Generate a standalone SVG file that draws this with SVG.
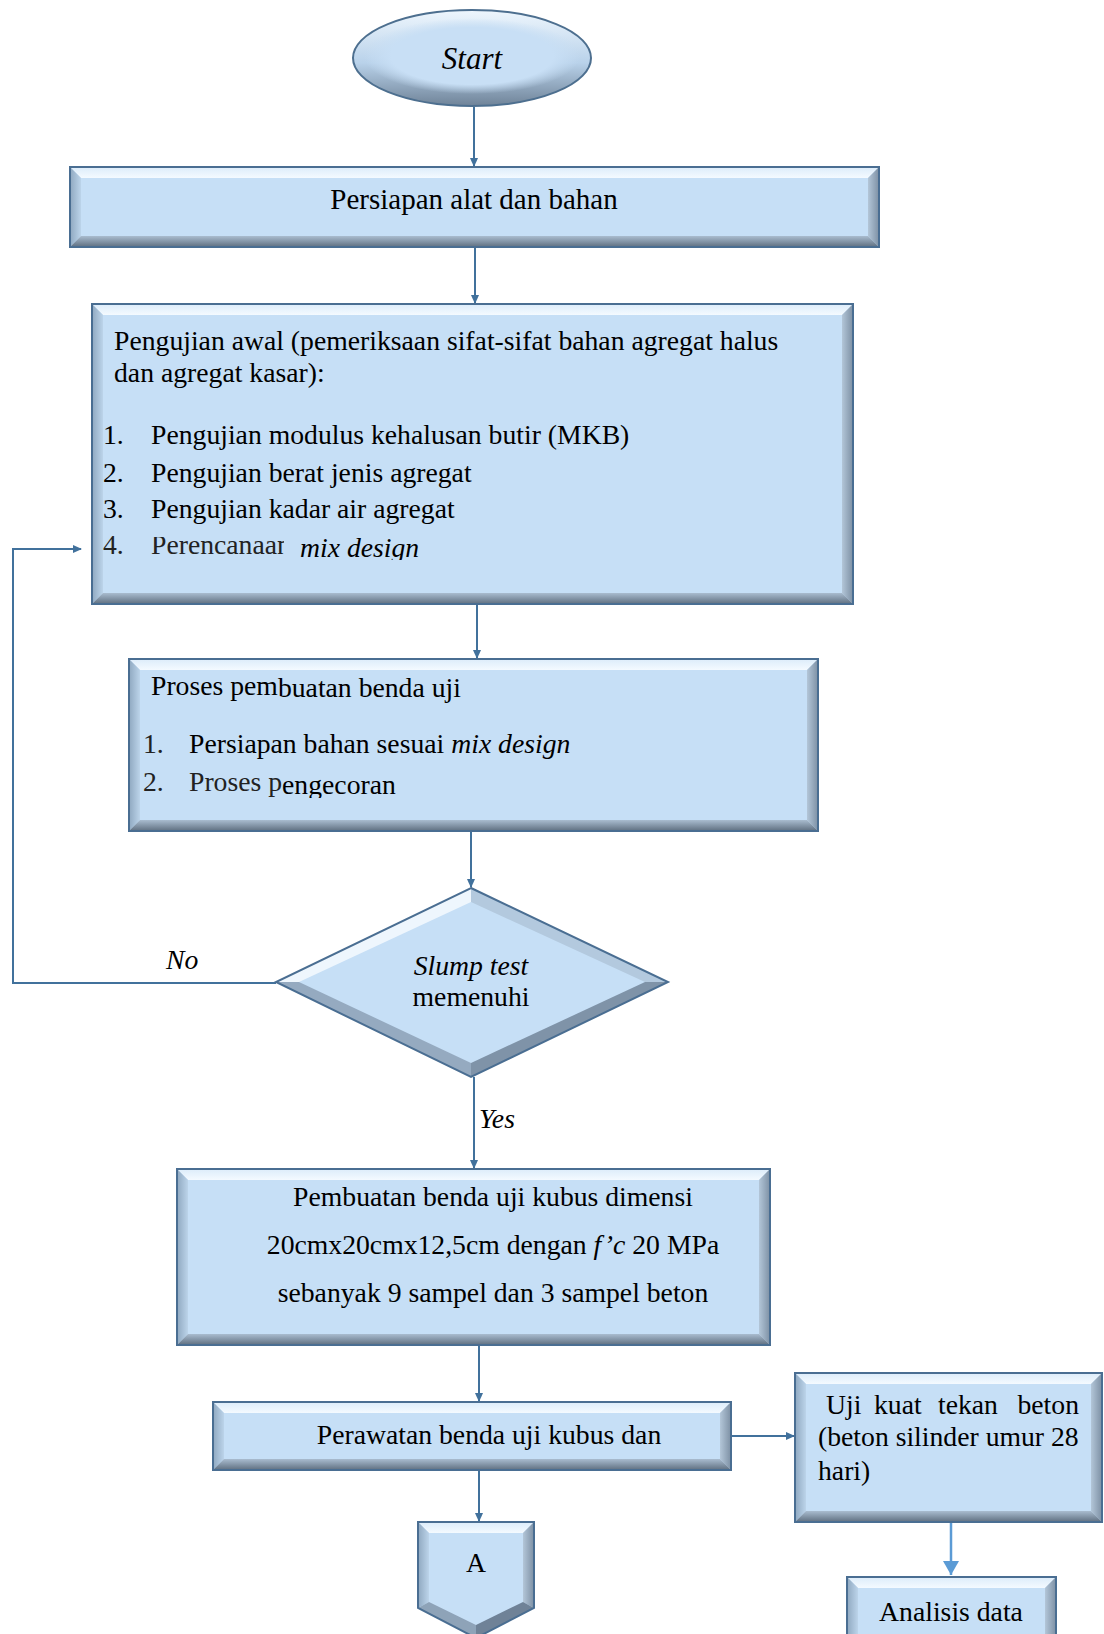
<svg xmlns="http://www.w3.org/2000/svg" width="1104" height="1634" viewBox="0 0 1104 1634">
<defs>
<linearGradient id="gB" x1="0" y1="0" x2="0" y2="1"><stop offset="0" stop-color="#a9bccf"/><stop offset="1" stop-color="#5f6f80"/></linearGradient>
<linearGradient id="gL" x1="0" y1="0" x2="1" y2="0"><stop offset="0" stop-color="#8fa8c0"/><stop offset="1" stop-color="#bcd4ea"/></linearGradient>
<linearGradient id="gR" x1="0" y1="0" x2="1" y2="0"><stop offset="0" stop-color="#b3c6d8"/><stop offset="1" stop-color="#7d90a4"/></linearGradient>
<linearGradient id="gT" x1="0" y1="0" x2="0" y2="1"><stop offset="0" stop-color="#dcecfa"/><stop offset="1" stop-color="#f4faff"/></linearGradient>
<linearGradient id="gE" x1="0" y1="0" x2="0" y2="1"><stop offset="0" stop-color="#eef6fd"/><stop offset="0.55" stop-color="#b9d2ea"/><stop offset="1" stop-color="#6f8398"/></linearGradient>
<radialGradient id="gEi" cx="0.5" cy="0.5" r="0.5"><stop offset="0.75" stop-color="#c8dff5"/><stop offset="1" stop-color="#c8dff5" stop-opacity="0"/></radialGradient>
<marker id="ah" markerWidth="9" markerHeight="8" refX="8" refY="4" orient="auto" markerUnits="userSpaceOnUse"><path d="M0,0 L9,4 L0,8 z" fill="#41719c"/></marker>
<marker id="ahB" markerWidth="14" markerHeight="16" refX="14" refY="8" orient="auto" markerUnits="userSpaceOnUse"><path d="M0,0 L14,8 L0,16 z" fill="#5b9bd5"/></marker>
<clipPath id="c4"><rect x="90" y="520" width="700" height="40"/></clipPath>
<clipPath id="c4b"><rect x="90" y="537" width="194" height="23"/></clipPath>
<clipPath id="c2"><rect x="130" y="760" width="600" height="38"/></clipPath>
</defs>
<style>
.f{fill:#c6dff6}
.top{fill:url(#gT)}
.lf{fill:url(#gL)}
.rt{fill:url(#gR)}
.bt{fill:url(#gB)}
.bd{fill:none;stroke:#4a6e92;stroke-width:2}
.t{font-family:"Liberation Serif","Times New Roman",serif;font-size:27.7px;fill:#000}
.c{text-anchor:middle}
.i{font-style:italic}
.ln{stroke:#41719c;stroke-width:2;fill:none}
.lb{stroke:#5b9bd5;stroke-width:2.5;fill:none}
</style>

<g id="connectors">
<line class="ln" x1="474" y1="107" x2="474" y2="166" marker-end="url(#ah)"/>
<line class="ln" x1="475" y1="247" x2="475" y2="303" marker-end="url(#ah)"/>
<line class="ln" x1="477" y1="604" x2="477" y2="658" marker-end="url(#ah)"/>
<line class="ln" x1="471" y1="831" x2="471" y2="887" marker-end="url(#ah)"/>
<line class="ln" x1="474" y1="1077" x2="474" y2="1168" marker-end="url(#ah)"/>
<line class="ln" x1="479" y1="1345" x2="479" y2="1401" marker-end="url(#ah)"/>
<line class="ln" x1="479" y1="1470" x2="479" y2="1521" marker-end="url(#ah)"/>
<line class="ln" x1="731" y1="1436" x2="794" y2="1436" marker-end="url(#ah)"/>
<line class="lb" x1="951" y1="1522" x2="951" y2="1575" marker-end="url(#ahB)"/>
<polyline class="ln" points="276,983 13,983 13,549 81,549" marker-end="url(#ah)"/>
<text class="t i" x="166" y="969">No</text>
<text class="t i" x="479" y="1128">Yes</text>
</g>

<g id="start">
<ellipse cx="472" cy="58" rx="119" ry="48" fill="url(#gE)" stroke="#4d6f8f" stroke-width="2"/>
<ellipse cx="472" cy="56" rx="108" ry="38" fill="url(#gEi)"/>
<text class="t c i" x="472" y="69" style="font-size:31px">Start</text>
</g>

<g id="persiapan">
<rect class="f" x="70" y="167" width="809" height="80"/>
<polygon class="top" points="70,167 879,167 868,178 81,178"/>
<polygon class="lf" points="70,167 81,178 81,236 70,247"/>
<polygon class="rt" points="879,167 879,247 868,236 868,178"/>
<polygon class="bt" points="70,247 879,247 868,236 81,236"/>
<rect class="bd" x="70" y="167" width="809" height="80"/>
<text class="t c" x="474" y="209" style="font-size:29px">Persiapan alat dan bahan</text>
</g>

<g id="pengujian">
<rect class="f" x="92" y="304" width="761" height="300"/>
<polygon class="top" points="92,304 853,304 842,315 103,315"/>
<polygon class="lf" points="92,304 103,315 103,593 92,604"/>
<polygon class="rt" points="853,304 853,604 842,593 842,315"/>
<polygon class="bt" points="92,604 853,604 842,593 103,593"/>
<rect class="bd" x="92" y="304" width="761" height="300"/>
<text class="t" x="114" y="350">Pengujian awal (pemeriksaan sifat-sifat bahan agregat halus</text>
<text class="t" x="114" y="382">dan agregat kasar):</text>
<text class="t" x="103" y="444">1.</text><text class="t" x="151" y="444">Pengujian modulus kehalusan butir (MKB)</text>
<text class="t" x="103" y="482">2.</text><text class="t" x="151" y="482">Pengujian berat jenis agregat</text>
<text class="t" x="103" y="518">3.</text><text class="t" x="151" y="518">Pengujian kadar air agregat</text>
<g clip-path="url(#c4)">
<text class="t" x="103" y="554" style="fill:#222">4.</text>
<text class="t i" x="300" y="557">mix design</text>
</g>
<g clip-path="url(#c4b)">
<text class="t" x="151" y="554" style="fill:#222">Perencanaan</text>
</g>
</g>

<g id="proses">
<rect class="f" x="129" y="659" width="689" height="172"/>
<polygon class="top" points="129,659 818,659 807,670 140,670"/>
<polygon class="lf" points="129,659 140,670 140,820 129,831"/>
<polygon class="rt" points="818,659 818,831 807,820 807,670"/>
<polygon class="bt" points="129,831 818,831 807,820 140,820"/>
<rect class="bd" x="129" y="659" width="689" height="172"/>
<text class="t" x="151" y="695">Proses pem<tspan dy="2">buatan benda uji</tspan></text>
<text class="t" x="143" y="753" style="fill:#222">1.</text>
<text class="t" x="189" y="753">Persiapan bahan sesuai <tspan class="i">mix design</tspan></text>
<g clip-path="url(#c2)">
<text class="t" x="143" y="791" style="fill:#222">2.</text>
<text class="t" x="189" y="791" style="fill:#222">Proses p<tspan dy="3" style="fill:#000">engecoran</tspan></text>
</g>
</g>

<g id="slump">
<polygon class="f" points="471,888 668,982 471,1077 276,982"/>
<polygon points="276,982 471,888 471,902 299,982" fill="#eef6fd"/>
<polygon points="471,888 668,982 645,982 471,902" fill="#b3c9de"/>
<polygon points="668,982 471,1077 471,1063 645,982" fill="#7f93a8"/>
<polygon points="471,1077 276,982 299,982 471,1063" fill="#95aac0"/>
<polygon class="bd" points="471,888 668,982 471,1077 276,982"/>
<text class="t c i" x="471" y="975">Slump test</text>
<text class="t c" x="471" y="1006">memenuhi</text>
</g>

<g id="pembuatan">
<rect class="f" x="177" y="1169" width="593" height="176"/>
<polygon class="top" points="177,1169 770,1169 759,1180 188,1180"/>
<polygon class="lf" points="177,1169 188,1180 188,1334 177,1345"/>
<polygon class="rt" points="770,1169 770,1345 759,1334 759,1180"/>
<polygon class="bt" points="177,1345 770,1345 759,1334 188,1334"/>
<rect class="bd" x="177" y="1169" width="593" height="176"/>
<text class="t c" x="493" y="1206">Pembuatan benda uji kubus dimensi</text>
<text class="t c" x="493" y="1254">20cmx20cmx12,5cm dengan <tspan class="i">f’c</tspan> 20 MPa</text>
<text class="t c" x="493" y="1302">sebanyak 9 sampel dan 3 sampel beton</text>
</g>

<g id="perawatan">
<rect class="f" x="213" y="1402" width="518" height="68"/>
<polygon class="top" points="213,1402 731,1402 720,1413 224,1413"/>
<polygon class="lf" points="213,1402 224,1413 224,1459 213,1470"/>
<polygon class="rt" points="731,1402 731,1470 720,1459 720,1413"/>
<polygon class="bt" points="213,1470 731,1470 720,1459 224,1459"/>
<rect class="bd" x="213" y="1402" width="518" height="68"/>
<text class="t c" x="489" y="1444">Perawatan benda uji kubus dan</text>
</g>

<g id="uji">
<rect class="f" x="795" y="1373" width="307" height="149"/>
<polygon class="top" points="795,1373 1102,1373 1091,1384 806,1384"/>
<polygon class="lf" points="795,1373 806,1384 806,1511 795,1522"/>
<polygon class="rt" points="1102,1373 1102,1522 1091,1511 1091,1384"/>
<polygon class="bt" points="795,1522 1102,1522 1091,1511 806,1511"/>
<rect class="bd" x="795" y="1373" width="307" height="149"/>
<text class="t" y="1414"><tspan x="826">Uji</tspan><tspan x="874">kuat</tspan><tspan x="938">tekan</tspan></text>
<text class="t" x="1079" y="1414" style="text-anchor:end">beton</text>
<text class="t" x="818" y="1446">(beton silinder umur 28</text>
<text class="t" x="818" y="1480">hari)</text>
</g>

<g id="analisis">
<rect class="f" x="847" y="1577" width="209" height="73"/>
<polygon class="top" points="847,1577 1056,1577 1045,1588 858,1588"/>
<polygon class="lf" points="847,1577 858,1588 858,1650 847,1650"/>
<polygon class="rt" points="1056,1577 1056,1650 1045,1650 1045,1588"/>
<rect class="bd" x="847" y="1577" width="209" height="73"/>
<text class="t c" x="951" y="1621">Analisis data</text>
</g>

<g id="A">
<polygon class="f" points="418,1522 534,1522 534,1608 476,1638 418,1608"/>
<polygon class="top" points="418,1522 534,1522 523,1533 429,1533"/>
<polygon class="lf" points="418,1522 429,1533 429,1602 418,1608"/>
<polygon class="rt" points="534,1522 534,1608 523,1602 523,1533"/>
<polygon points="534,1608 476,1638 476,1625 523,1602" fill="#6f8297"/>
<polygon points="476,1638 418,1608 429,1602 476,1625" fill="#8ea3b8"/>
<polygon class="bd" points="418,1522 534,1522 534,1608 476,1638 418,1608"/>
<text class="t c" x="476" y="1572">A</text>
</g>
</svg>
